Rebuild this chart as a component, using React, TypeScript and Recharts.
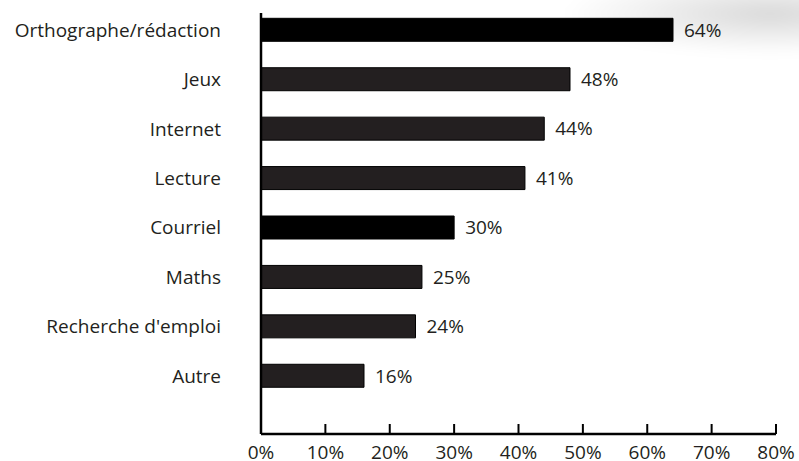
import React from 'react';
import { BarChart, Bar, XAxis, YAxis, Cell, LabelList } from 'recharts';

const categories = [
  'Orthographe/rédaction',
  'Jeux',
  'Internet',
  'Lecture',
  'Courriel',
  'Maths',
  "Recherche d'emploi",
  'Autre',
];
const values = [64, 48, 44, 41, 30, 25, 24, 16];
const xTicks = [0, 10, 20, 30, 40, 50, 60, 70, 80];
const blackBars = ['Orthographe/rédaction', 'Courriel'];

const data = categories.map((name, i) => ({ name, value: values[i] }));

const FONT = '"Open Sans", sans-serif';
const TEXT = '#231f20';
const FS = 19;

const XTick = (props: any) => {
  const { x, y, payload } = props;
  return (
    <g>
      <line x1={x} x2={x} y1={y} y2={y - 10} stroke="#000" strokeWidth={2} />
      <text x={x} y={y + 25} textAnchor="middle" fill={TEXT} fontSize={FS} fontFamily={FONT}>
        {payload.value + '%'}
      </text>
    </g>
  );
};

export default function App() {
  return (
    <div
      style={{
        position: 'absolute',
        left: 0,
        top: 0,
        width: 799,
        height: 461,
        overflow: 'hidden',
        background: '#fff',
      }}
    >
      <div
        style={{
          position: 'absolute',
          left: 560,
          top: -20,
          width: 300,
          height: 75,
          background:
            'radial-gradient(ellipse at 70% 45%, rgba(0,0,0,0.15), rgba(0,0,0,0.05) 45%, rgba(0,0,0,0) 70%)',
          filter: 'blur(6px)',
        }}
      />
      <div style={{ position: 'absolute', left: 0, top: 0 }}>
        <BarChart
          width={799}
          height={461}
          data={data}
          layout="vertical"
          margin={{ top: 13, right: 23, bottom: 0, left: 0 }}
        >
          <XAxis
            type="number"
            domain={[0, 80]}
            ticks={xTicks}
            interval={0}
            height={27}
            axisLine={{ stroke: '#000', strokeWidth: 2.5 }}
            tickLine={false}
            tickSize={0}
            tickMargin={0}
            tick={<XTick />}
          />
          <YAxis
            type="category"
            dataKey="name"
            width={261}
            axisLine={{ stroke: '#000', strokeWidth: 2.5 }}
            tickLine={false}
            tickSize={0}
            tickMargin={40}
            padding={{ top: -7.7, bottom: 33.3 }}
            tick={{ fill: TEXT, fontSize: FS, fontFamily: FONT }}
            interval={0}
          />
          <Bar dataKey="value" barSize={23} isAnimationActive={false} stroke="#000" strokeWidth={1}>
            {data.map((d) => (
              <Cell key={d.name} fill={blackBars.includes(d.name) ? '#000' : '#231f20'} />
            ))}
            <LabelList
              dataKey="value"
              position="right"
              offset={11}
              formatter={(v: any) => v + '%'}
              fill={TEXT}
              fontSize={FS}
              fontFamily={FONT}
            />
          </Bar>
        </BarChart>
      </div>
    </div>
  );
}
